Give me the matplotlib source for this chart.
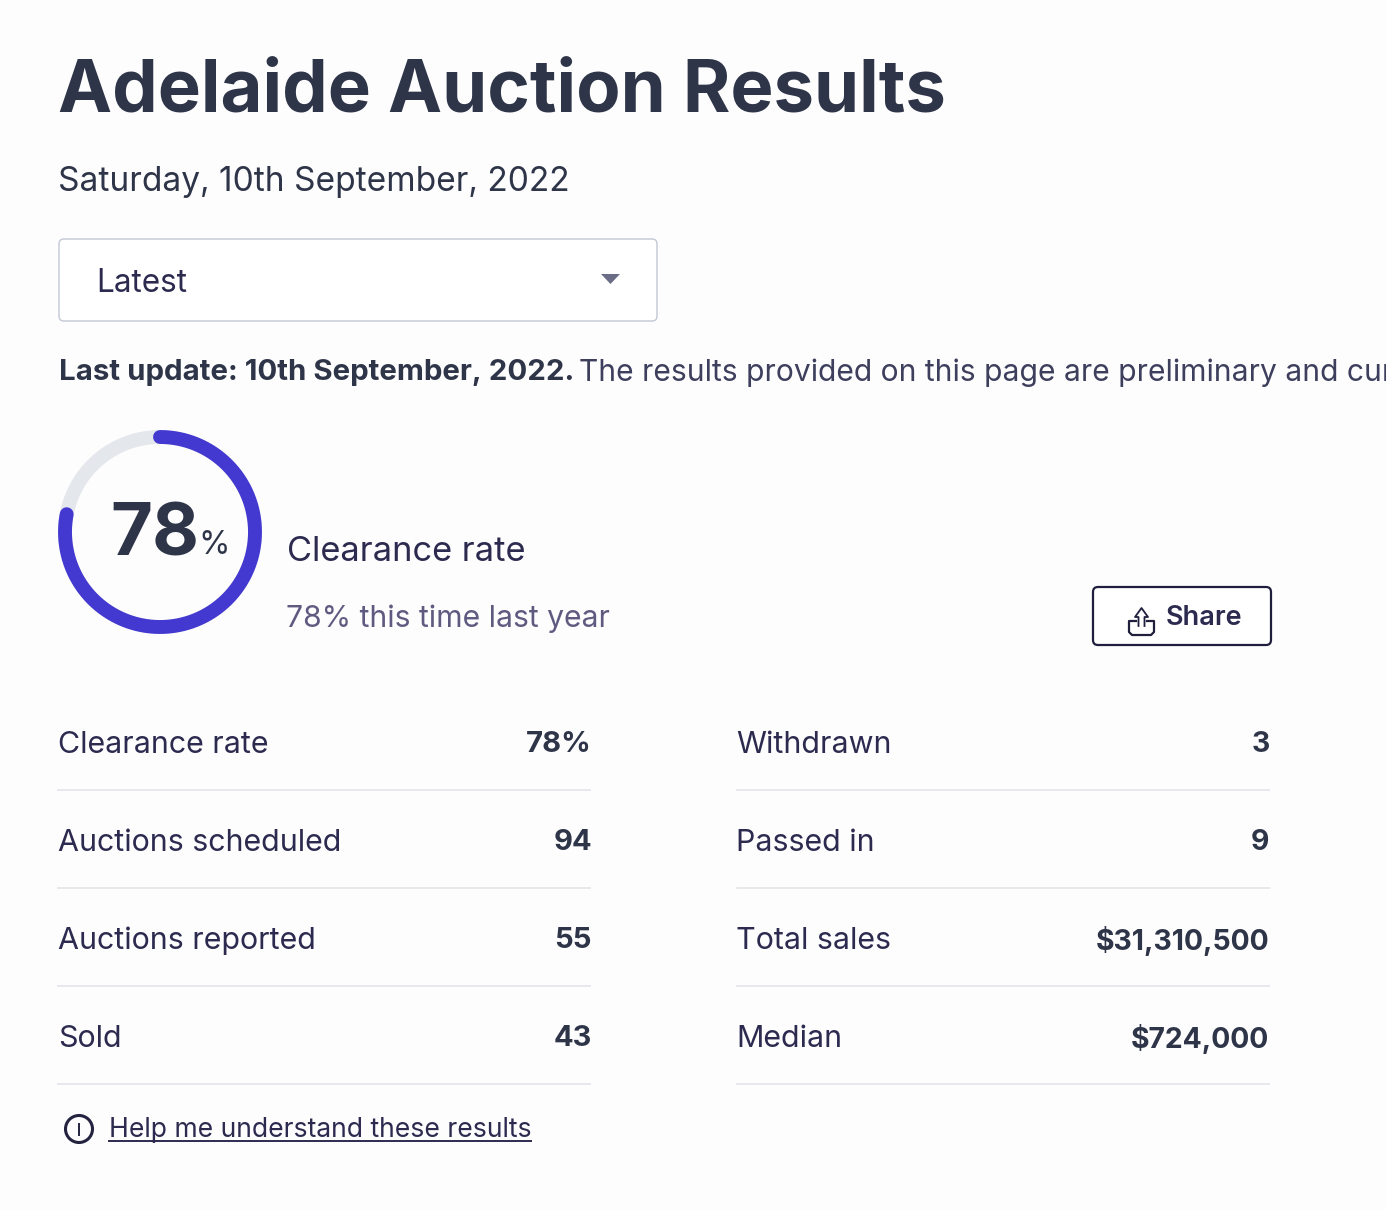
import numpy as np
import matplotlib
matplotlib.use('Agg')
import matplotlib.pyplot as plt
from matplotlib.patches import FancyBboxPatch, Circle, Polygon

title = 'Adelaide Auction Results'
date_text = 'Saturday, 10th September, 2022'
dropdown_text = 'Latest'
update_bold = 'Last update: 10th September, 2022.'
update_rest = 'The results provided on this page are preliminary and cur'
clearance = 78
last_year = '78% this time last year'
help_text = 'Help me understand these results'

left_labels = ['Clearance rate', 'Auctions scheduled', 'Auctions reported', 'Sold']
left_values = ['78%', '94', '55', '43']
right_labels = ['Withdrawn', 'Passed in', 'Total sales', 'Median']
right_values = ['3', '9', '$31,310,500', '$724,000']

DARK = '#2f3548'
TEXT = '#2c2a4f'
BLUE = '#4338d0'
LINE = '#e6e8ec'

plt.rcParams['font.family'] = ['Inter', 'DejaVu Sans']

fig = plt.figure(figsize=(13.86, 12.10), dpi=100, facecolor='#fdfdfe')
ax = fig.add_axes([0, 0, 1, 1])
ax.set_xlim(0, 1386)
ax.set_ylim(1210, 0)
ax.axis('off')

# header
ax.text(58, 92, title, fontsize=52.2, fontweight='bold', color=DARK, va='center')
ax.text(58, 182, date_text, fontsize=24.1, color=DARK, va='center')

# dropdown
ax.add_patch(FancyBboxPatch((59, 239), 598, 82, boxstyle='round,pad=0,rounding_size=5',
                            fc='#ffffff', ec='#c3c8d4', lw=1.0))
ax.text(96, 283, dropdown_text, fontsize=22.7, color=TEXT, va='center')
ax.add_patch(Polygon([(601, 274), (620, 274), (610.5, 284)], fc='#6b6d86', ec='none'))

# update line
ax.text(59, 373, update_bold, fontsize=21.2, fontweight='bold', color=DARK, va='center')
ax.text(579, 373, update_rest, fontsize=21.6, color='#3d3f5c', va='center')

# ring
cx, cy, r = 160, 532, 95
t = np.linspace(0, 2 * np.pi, 300)
ax.plot(cx + r * np.sin(t), cy - r * np.cos(t), color='#e4e7ec', lw=10)
t = np.linspace(0, 2 * np.pi * clearance / 100, 300)
ax.plot(cx + r * np.sin(t), cy - r * np.cos(t), color=BLUE, lw=10, solid_capstyle='round')
ax.text(110, 536, str(clearance), fontsize=52, fontweight='bold', color=DARK, va='center')
ax.text(198, 546, '%', fontsize=23, color=DARK, va='center')

ax.text(287, 552, 'Clearance rate', fontsize=24.8, color=TEXT, va='center')
ax.text(286, 619, last_year, fontsize=21.7, color='#5f5a80', va='center')

# share button
ax.add_patch(FancyBboxPatch((1093, 587), 178, 58, boxstyle='round,pad=0,rounding_size=5',
                            fc='#ffffff', ec='#1f1f3d', lw=1.6))
ax.text(1166, 618, 'Share', fontsize=19.5, fontweight='semibold', color=TEXT, va='center')
ax.plot([1136, 1129, 1129, 1132, 1151, 1154, 1154, 1147], [621, 621, 632, 635, 635, 632, 621, 621],
        color='#1f1f3d', lw=1.6)
ax.plot([1138.5, 1138.5, 1135, 1141.5, 1148, 1144.5, 1144.5], [626, 617, 617, 608, 617, 617, 626],
        color='#1f1f3d', lw=1.3)

# table
row_y = [742, 840, 938, 1036]
for i, y in enumerate(row_y):
    ax.text(58, y + 3, left_labels[i], fontsize=21.9, color=TEXT, va='center')
    ax.text(592, y + 3, left_values[i], fontsize=21, fontweight='bold', color=DARK, va='center', ha='right')
    ax.plot([58, 590], [y + 48, y + 48], color=LINE, lw=1.4)
    ax.text(736, y + 3, right_labels[i], fontsize=21.9, color=TEXT, va='center')
    ax.text(1269.5, y + 3, right_values[i], fontsize=20.4, fontweight='bold', color=DARK, va='center', ha='right')
    ax.plot([737, 1269], [y + 48, y + 48], color=LINE, lw=1.4)

# help link
ax.add_patch(Circle((79, 1129), 13.5, fc='none', ec='#23233f', lw=2.2))
ax.plot([79, 79], [1124, 1135], color='#23233f', lw=1.4)
ax.text(109, 1130, help_text, fontsize=19.1, color=TEXT, va='center')
ax.plot([109, 531], [1141, 1141], color=TEXT, lw=1.4)

fig.savefig('out.png', dpi=100, facecolor=fig.get_facecolor())
